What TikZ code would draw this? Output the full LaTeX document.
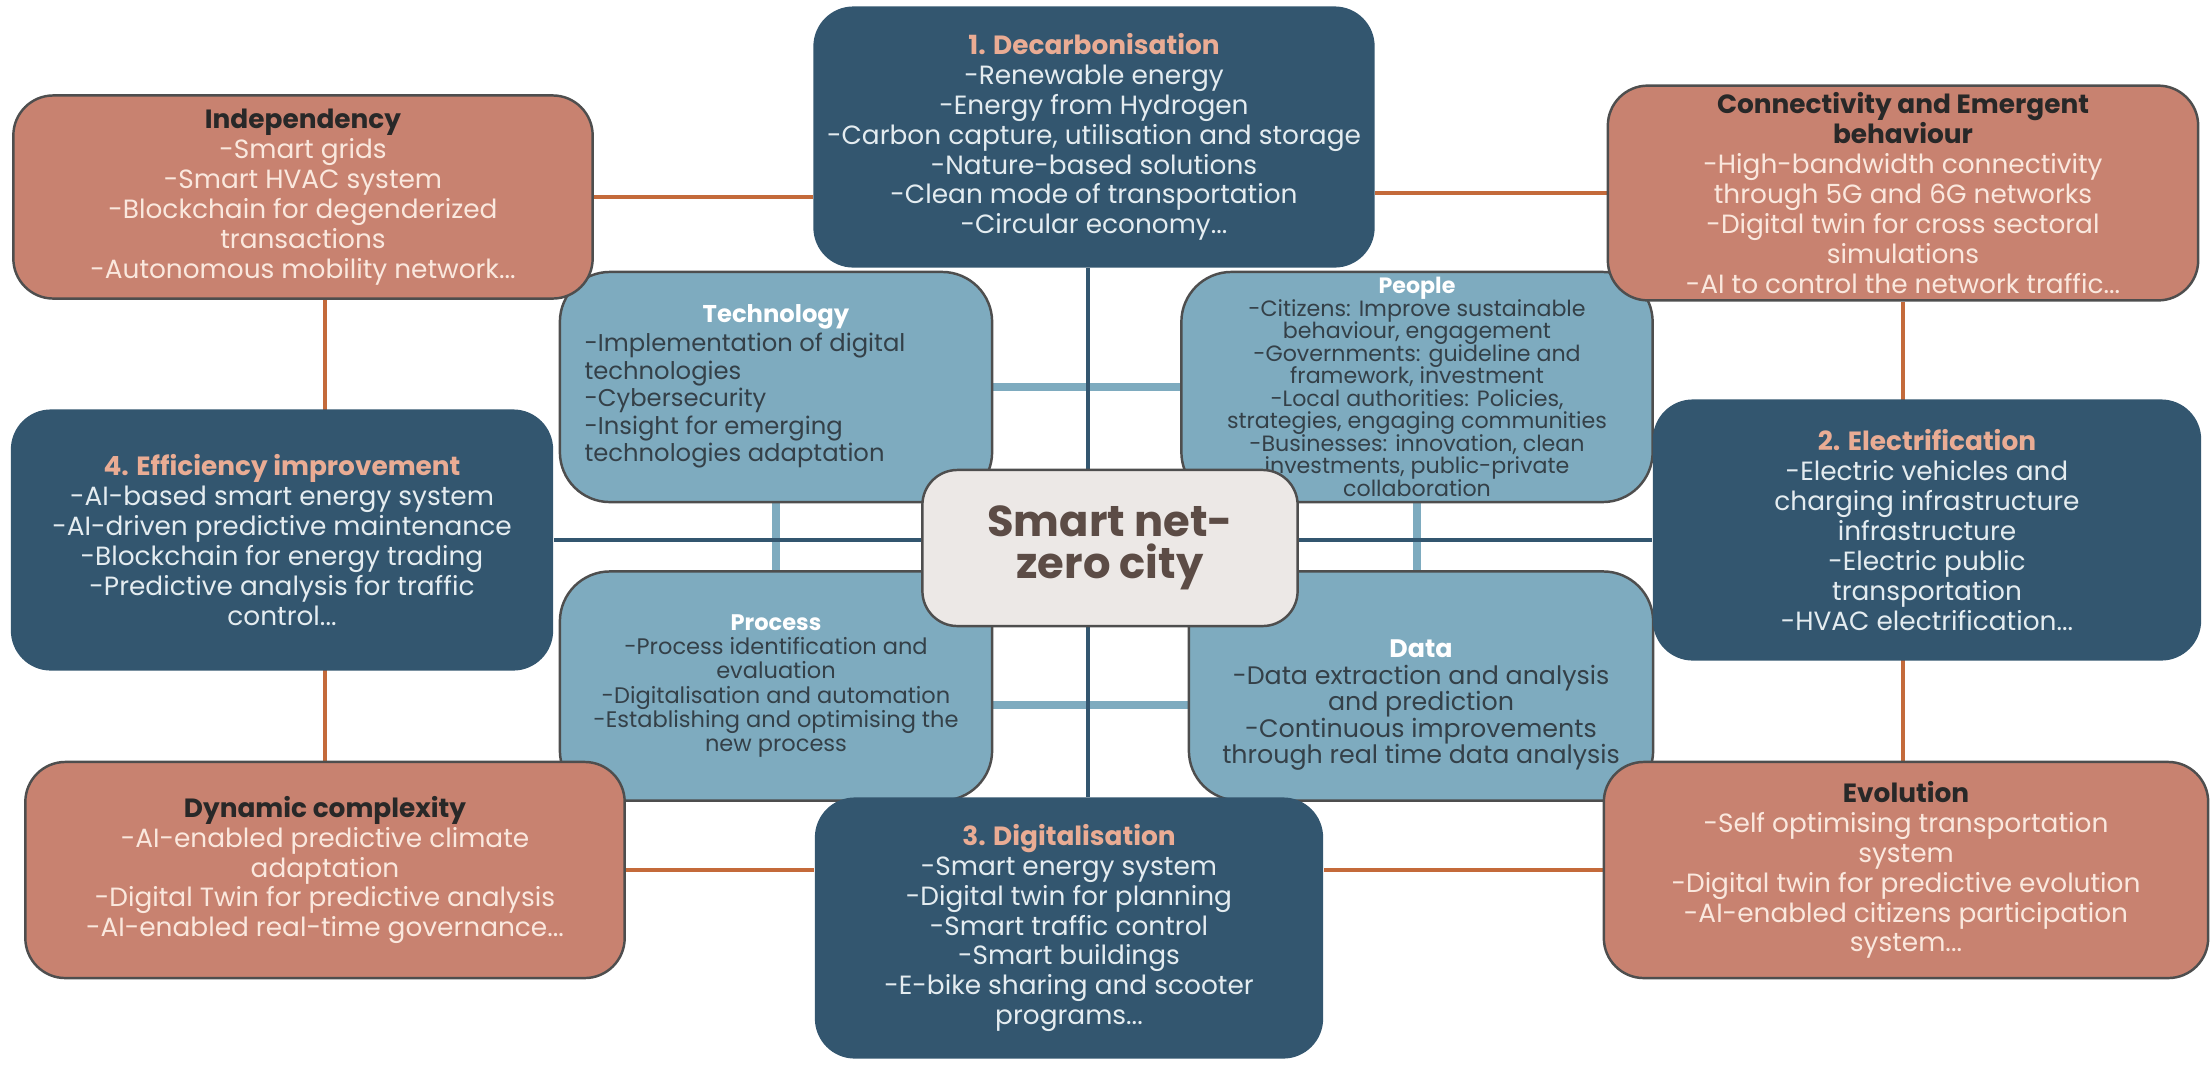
\documentclass[tikz,border=0pt]{standalone}
\usepackage{fontspec}
\setmainfont{Poppins}
\usetikzlibrary{positioning,backgrounds}
\definecolor{darkbox}{RGB}{51,86,111}
\definecolor{salmon}{RGB}{200,130,112}
\definecolor{lightbox}{RGB}{126,171,191}
\definecolor{cityfill}{RGB}{236,232,230}
\definecolor{edgegray}{RGB}{78,78,78}
\definecolor{linkorange}{RGB}{196,106,58}
\definecolor{titlesalmon}{RGB}{234,172,148}
\definecolor{paletext}{RGB}{228,236,240}
\definecolor{pinktext}{RGB}{250,232,222}
\definecolor{headdark}{RGB}{40,40,40}
\definecolor{greytext}{RGB}{52,64,72}
\definecolor{citytext}{RGB}{92,76,70}
\newcommand{\pillarhead}[1]{\textcolor{titlesalmon}{\textbf{#1}}}
\newcommand{\traithead}[1]{\textcolor{headdark}{\textbf{#1}}}
\newcommand{\actorhead}[1]{\textcolor{white}{\textbf{#1}}}
\newcommand{\tightlines}{\lineskiplimit=-6pt\relax}

\begin{document}
\begin{tikzpicture}[x=0.01cm,y=-0.01cm,
  outer/.style={rounded corners=0.4cm,align=center,inner sep=2pt,
    font=\fontsize{7.5}{8.5}\selectfont},
  pillar/.style={outer,fill=darkbox,text=paletext},
  trait/.style={outer,fill=salmon,draw=edgegray,line width=0.7pt,text=pinktext},
  actor/.style={rounded corners=0.5cm,align=center,inner sep=2pt,fill=lightbox,
    draw=edgegray,line width=0.7pt,text=greytext,font=\fontsize{6.9}{7.8}\selectfont},
  hub/.style={rounded corners=0.35cm,align=center,fill=cityfill,draw=edgegray,
    line width=0.7pt,text=citytext,font=\fontsize{12.3}{12}\selectfont\bfseries},
  pillarlink/.style={darkbox,line width=1.1pt},
  traitlink/.style={linkorange,line width=0.9pt},
  actorlink/.style={lightbox,line width=2.3pt}]
  \useasboundingbox (0,0) rectangle (2212,1066);

  % the four actors
  \node[actor,minimum width=4.32cm,minimum height=2.30cm] (tech) at (776,387)
    {\actorhead{Technology}\\
     \begin{tabular}{@{}l@{}}
     -Implementation of digital\\
     technologies\\
     -Cybersecurity\\
     -Insight for emerging\\
     technologies adaptation
     \end{tabular}\hspace*{0.62cm}\mbox{}};
  \node[actor,minimum width=4.71cm,minimum height=2.30cm,inner sep=0pt,
    font=\fontsize{6.3}{6.4}\selectfont\tightlines] (people) at (1417,387)
    {\actorhead{People}\\
     -Citizens: Improve sustainable\\
     behaviour, engagement\\
     -Governments: guideline and\\
     framework, investment\\
     -Local authorities: Policies,\\
     strategies, engaging communities\\
     -Businesses: innovation, clean\\
     investments, public-private\\
     collaboration};
  \node[actor,minimum width=4.32cm,minimum height=2.29cm,
    font=\fontsize{6.4}{6.9}\selectfont] (process) at (776,686)
    {\actorhead{Process}\\
     -Process identification and\\
     evaluation\\
     -Digitalisation and automation\\
     -Establishing and optimising the\\
     new process};
  \node[actor,minimum width=4.64cm,minimum height=2.29cm,
    font=\fontsize{7.2}{7.5}\selectfont] (data) at (1421,686)
    {\rule{0pt}{16pt}\actorhead{Data}\\
     -Data extraction and analysis\\
     and prediction\\
     -Continuous improvements\\
     through real time data analysis};

  % four pillars
  \node[pillar,minimum width=5.61cm,minimum height=2.61cm] (decarb) at (1094,137)
    {\pillarhead{1. Decarbonisation}\\
     -Renewable energy\\
     -Energy from Hydrogen\\
     -Carbon capture, utilisation and storage\\
     -Nature-based solutions\\
     -Clean mode of transportation\\
     -Circular economy...};
  \node[pillar,minimum width=5.48cm,minimum height=2.61cm] (electr) at (1927,530)
    {\pillarhead{2. Electrification}\\
     -Electric vehicles and\\
     charging infrastructure\\
     infrastructure\\
     -Electric public\\
     transportation\\
     -HVAC electrification...};
  \node[pillar,minimum width=5.08cm,minimum height=2.61cm] (digital) at (1069,928)
    {\pillarhead{3. Digitalisation}\\
     -Smart energy system\\
     -Digital twin for planning\\
     -Smart traffic control\\
     -Smart buildings\\
     -E-bike sharing and scooter\\
     programs...};
  \node[pillar,minimum width=5.42cm,minimum height=2.61cm] (effic) at (282,540)
    {\pillarhead{4. Efficiency improvement}\\
     -AI-based smart energy system\\
     -AI-driven predictive maintenance\\
     -Blockchain for energy trading\\
     -Predictive analysis for traffic\\
     control...};

  % corner traits
  \node[trait,minimum width=5.79cm,minimum height=2.03cm] (indep) at (303,197)
    {\traithead{Independency}\\
     -Smart grids\\
     -Smart HVAC system\\
     -Blockchain for degenderized\\
     transactions\\
     -Autonomous mobility network...};
  \node[trait,minimum width=5.90cm,minimum height=2.06cm] (connect) at (1903,193)
    {\traithead{Connectivity and Emergent}\\
     \traithead{behaviour}\\
     -High-bandwidth connectivity\\
     through 5G and 6G networks\\
     -Digital twin for cross sectoral\\
     simulations\\
     -AI to control the network traffic...};
  \node[trait,minimum width=5.99cm,minimum height=2.16cm] (dynamic) at (325,870)
    {\traithead{Dynamic complexity}\\
     -AI-enabled predictive climate\\
     adaptation\\
     -Digital Twin for predictive analysis\\
     -AI-enabled real-time governance...};
  \node[trait,minimum width=6.04cm,minimum height=2.16cm] (evolution) at (1906,870)
    {\traithead{Evolution}\\
     -Self optimising transportation\\
     system\\
     -Digital twin for predictive evolution\\
     -AI-enabled citizens participation\\
     system...};

  \node[hub,minimum width=3.75cm,minimum height=1.56cm] (city) at (1110,548)
    {Smart net-\\zero city};

  %links behind the boxes
  \begin{scope}[on background layer]
    \draw[actorlink] (tech) -- (people);
    \draw[actorlink] (tech) -- (process);
    \draw[actorlink] (people.south) -- (people.south |- data.north);
    \draw[actorlink] ([yshift=-0.19cm]process.east) -- ([yshift=-0.19cm]process.east -| data.west);
    \draw[pillarlink] ([xshift=-0.06cm]decarb.south) -- ([xshift=-0.06cm]decarb.south |- digital.north);
    \draw[pillarlink] (effic.east) -- (effic.east -| electr.west);
    \draw[traitlink] (indep.east) -- (indep.east -| decarb.west);
    \draw[traitlink] (connect.west) -- (connect.west -| decarb.east);
    \draw[traitlink] (dynamic.north |- indep.south) -- (dynamic.north);
    \draw[traitlink] (connect.south) -- (connect.south |- evolution.north);
    \draw[traitlink] (dynamic.east) -- (dynamic.east -| digital.west);
    \draw[traitlink] (evolution.west) -- (evolution.west -| digital.east);
  \end{scope}
\end{tikzpicture}
\end{document}
